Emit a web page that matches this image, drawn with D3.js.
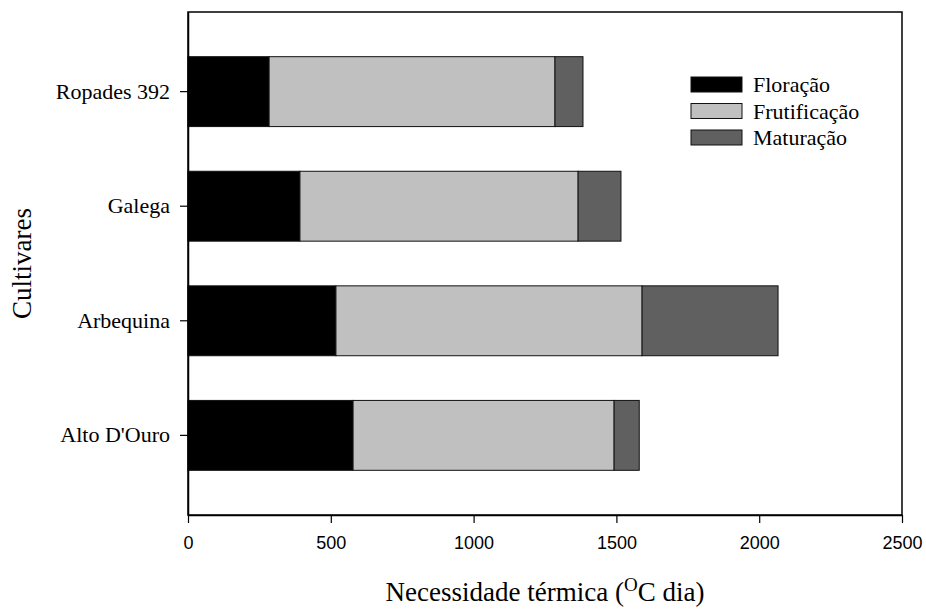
<!DOCTYPE html>
<html>
<head>
<meta charset="utf-8">
<script src="https://cdn.jsdelivr.net/npm/d3@7"></script>
<style>
  html, body { margin: 0; padding: 0; background: #fff; }
  svg { display: block; }
</style>
</head>
<body>
<svg id="chart" width="926" height="612"></svg>
<script>
const categories = ["Alto D'Ouro", "Arbequina", "Galega", "Ropades 392"];
const seriesNames = ["Floração", "Frutificação", "Maturação"];
const floracao = [578, 518, 392, 284];
const frutificacao = [914, 1072, 974, 1001];
const maturacao = [88, 476, 150, 98];
const xTicks = [0, 500, 1000, 1500, 2000, 2500];
const colors = ["#000000", "#c0c0c0", "#606060"];

const svg = d3.select("#chart");
const margin = {left: 188, right: 24, top: 12, bottom: 97};
const W = 926, H = 612;
const x0 = margin.left, x1 = W - margin.right, y0 = margin.top, y1 = H - margin.bottom;

const rows = categories.map((c, i) => ({cat: c, "Floração": floracao[i], "Frutificação": frutificacao[i], "Maturação": maturacao[i]}));
const stacked = d3.stack().keys(seriesNames)(rows);

const x = d3.scaleLinear().domain([0, 2500]).range([x0, x1]);
const y = d3.scaleBand().domain(categories.slice().reverse()).range([y0, y1]).paddingInner(0.39).paddingOuter(0.39);

// bars
stacked.forEach((s, si) => {
  svg.append("g").selectAll("rect").data(s).join("rect")
    .attr("x", d => x(d[0]))
    .attr("y", d => y(d.data.cat))
    .attr("width", d => x(d[1]) - x(d[0]))
    .attr("height", y.bandwidth())
    .attr("fill", colors[si])
    .attr("stroke", "#111")
    .attr("stroke-width", 1);
});

// frame
svg.append("rect").attr("x", x0).attr("y", y0).attr("width", x1 - x0).attr("height", y1 - y0)
  .attr("fill", "none").attr("stroke", "#000").attr("stroke-width", 1.5);

// x axis
const xAxis = svg.append("g").attr("transform", `translate(0,${y1})`)
  .call(d3.axisBottom(x).tickValues(xTicks).tickFormat(d3.format("d")).tickSize(8).tickSizeOuter(0).tickPadding(13));
xAxis.select(".domain").attr("stroke-width", 1.5);
xAxis.selectAll(".tick line").attr("stroke-width", 1.2);
xAxis.selectAll("text").attr("font-family", "Liberation Sans, Arial, sans-serif").attr("font-size", 18).attr("fill", "#000");

// y axis
const yAxis = svg.append("g").attr("transform", `translate(${x0},0)`)
  .call(d3.axisLeft(y).tickSize(8).tickSizeOuter(0).tickPadding(10));
yAxis.select(".domain").attr("stroke-width", 1.5);
yAxis.selectAll(".tick line").attr("stroke-width", 1.2);
yAxis.selectAll("text").attr("font-family", "Liberation Serif, Times New Roman, serif").attr("font-size", 22).attr("fill", "#000");

// axis titles
const xt = svg.append("text").attr("x", (x0 + x1) / 2).attr("y", 601)
  .attr("text-anchor", "middle").attr("font-family", "Liberation Serif, Times New Roman, serif").attr("font-size", 27);
xt.append("tspan").text("Necessidade térmica (");
xt.append("tspan").attr("font-size", 19).attr("dy", -10).text("O");
xt.append("tspan").attr("dy", 10).text("C dia)");

svg.append("text").attr("transform", `translate(31,${(y0 + y1) / 2}) rotate(-90)`)
  .attr("text-anchor", "middle").attr("font-family", "Liberation Serif, Times New Roman, serif").attr("font-size", 27)
  .text("Cultivares");

// legend
const lg = svg.append("g").attr("transform", "translate(691,77)");
seriesNames.forEach((n, i) => {
  const g = lg.append("g").attr("transform", `translate(0,${i * 26.5})`);
  g.append("rect").attr("width", 51).attr("height", 15).attr("fill", colors[i]).attr("stroke", "#111").attr("stroke-width", 1);
  g.append("text").attr("x", 62).attr("y", 15).attr("font-family", "Liberation Serif, Times New Roman, serif")
    .attr("font-size", 22).text(n);
});
</script>
</body>
</html>
